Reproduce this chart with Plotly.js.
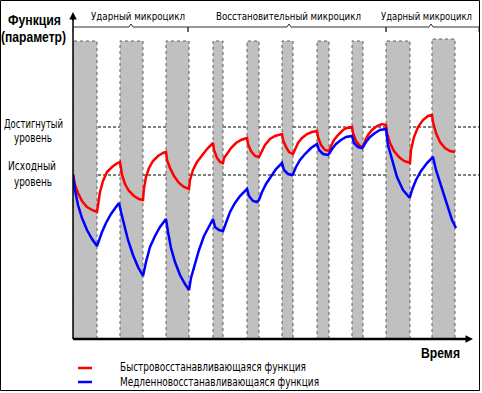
<!DOCTYPE html>
<html><head><meta charset="utf-8">
<script src="https://cdn.plot.ly/plotly-3.0.1.min.js"></script>
<style>html,body{margin:0;padding:0;background:#fff}#c{width:482px;height:393px}</style>
</head><body><div id="c"></div>
<script>
// ---- data (time units, function level) ----
const redT = [0,2,5,9,14,19,24,25,27,30,34,39,43,47,49,52,56,61,66,70,71,73,76,80,85,90,93,94,97,101,106,111,116,117,120,124,129,134,140,141,144,147,150,151,154,158,163,168,174,175,178,182,186,188,192,197,202,209,210,213,216,220,222,225,229,234,239,244,245,248,252,256,258,261,265,270,274,279,280,283,287,290,292,295,299,304,309,313,314,317,321,326,331,337,338,341,345,350,355,359,360,363,367,372,377,382];
const redV = [165,154,146,138,132,129,127,134,147,158,167,172,175,177,164,155,148,143,140,139,151,162,171,178,183,186,187,179,171,163,156,152,150,159,169,177,184,190,196,189,181,177,176,181,185,191,196,199,201,195,188,183,182,186,194,200,203,205,199,192,187,185,190,196,201,205,207,208,202,194,189,188,193,199,204,209,211,212,206,198,193,192,198,204,209,213,215,214,206,196,188,182,178,176,189,202,212,219,223,224,217,206,197,191,188,187];
const blueT = [0,2,5,9,14,19,24,26,29,33,38,43,46,48,51,55,60,65,70,73,77,82,87,93,95,98,102,107,112,116,118,122,126,131,136,140,142,146,150,153,157,162,167,174,176,180,184,186,189,193,198,203,209,211,215,219,220,223,227,232,238,244,246,250,255,256,259,263,268,273,279,281,285,289,290,293,297,302,307,313,315,319,324,330,336,337,339,343,348,354,360,363,367,371,375,379,383];
const blueV = [164,149,134,121,109,100,93,99,107,116,125,132,136,127,114,99,84,72,63,77,92,103,112,120,107,91,77,64,55,49,61,76,89,103,113,120,112,109,108,117,127,136,143,150,143,138,137,139,147,155,163,170,176,169,165,164,165,172,179,185,191,195,189,185,184,185,190,195,199,202,203,196,192,191,192,197,202,206,209,210,194,179,162,149,142,142,149,159,168,176,182,169,156,143,131,119,111];
// load (work) periods
const loadStart = [0,47,93,140,174,209,244,279,313,359];
const loadEnd   = [24,70,116,150,186,220,256,290,337,382];
const loadTop   = [298,298,298,298,298,298,298,298,298,300];
const initialLevel = 164;
const reachedLevel = 212;
const cycleNames = ["Ударный микроцикл","Восстановительный микроцикл","Ударный микроцикл"];
const cycleFrom = [0,115,313];
const cycleTo   = [115,313,406];
const cycleMid  = [58,216,358];
const seriesNames = ["Быстровосстанавливающаяся функция","Медленновосстанавливающаяся функция"];

// ---- layout helpers (pixel -> paper) ----
const L=73, T=13, W=399, H=326;
const PX = x => (x - L) / W;
const PY = y => (T + H - y) / H;
const narrow = '"DejaVu Sans Condensed","Liberation Sans",sans-serif';
const bold = '"Liberation Sans",Arial,sans-serif';

const shapes = [];
for (let i=0;i<loadStart.length;i++){
  shapes.push({type:'rect',xref:'x',yref:'y',x0:loadStart[i],x1:loadEnd[i],y0:0,y1:loadTop[i],
    fillcolor:'#c0c0c0',line:{color:'#606060',width:1,dash:'dot'},layer:'below'});
}
[initialLevel,reachedLevel].forEach(v=>shapes.push({type:'line',xref:'paper',yref:'y',x0:0,x1:PX(480),y0:v,y1:v,
  line:{color:'#000',width:1,dash:'3px,2px'},layer:'below'}));
// axes
shapes.push({type:'line',xref:'paper',yref:'paper',x0:0,x1:0,y0:0,y1:PY(18),line:{color:'#000',width:1.5}});
shapes.push({type:'line',xref:'paper',yref:'paper',x0:0,x1:PX(466),y0:PY(339),y1:PY(339),line:{color:'#000',width:2.5}});
// braces
for (let i=0;i<cycleNames.length;i++){
  const a=PX(L+cycleFrom[i]), b=PX(L+cycleTo[i]), m=PX(L+cycleMid[i]), d=2/W;
  shapes.push({type:'path',xref:'paper',yref:'paper',
    path:`M${a},${PY(32)} L${a},${PY(27)} L${m-d},${PY(27)} L${m},${PY(24)} L${m+d},${PY(27)} L${b},${PY(27)} L${b},${PY(32)}`,
    line:{color:'#333',width:1}});
}
// legend marks
shapes.push({type:'line',xref:'paper',yref:'paper',x0:PX(78),x1:PX(92),y0:PY(368),y1:PY(368),line:{color:'#ff0000',width:2.5}});
shapes.push({type:'line',xref:'paper',yref:'paper',x0:PX(78),x1:PX(92),y0:PY(382),y1:PY(382),line:{color:'#0000ff',width:2.5}});
// outer frame
shapes.push({type:'rect',xref:'paper',yref:'paper',x0:PX(0.5),x1:PX(479.5),y0:PY(390.5),y1:PY(0.5),line:{color:'#000',width:1}});

const ann = [];
const fitWidth = [];   // target text widths, in annotation order
const txt = (t,x,y,w,opts={}) => { ann.push(Object.assign({text:t,xref:'paper',yref:'paper',x:PX(x),y:PY(y),width:w,
  showarrow:false,xanchor:'center',yanchor:'middle',borderpad:0,font:{family:narrow,size:12.5,color:'#000'}},opts)); fitWidth.push(w); };
const topFont = {family:narrow,size:10.5,color:'#000'};
txt(cycleNames[0],138,16,94,{font:topFont});
txt(cycleNames[1],288,16,145,{font:topFont});
txt(cycleNames[2],426,16,91,{font:topFont});
const bf = {family:bold,size:14,color:'#000',weight:'bold'};
txt('<b>Функция</b>',34,20,53,{font:bf});
txt('<b>(параметр)</b>',33,37,65,{font:bf});
txt('Достигнутый',33,123,59);
txt('уровень',33,137,38);
txt('Исходный',32,165,48);
txt('уровень',33,181,38);
txt('<b>Время</b>',440,353,39,{font:bf});
txt(seriesNames[0],213,366,186);
txt(seriesNames[1],219.5,381,199);
// axis arrowheads
ann.push({xref:'paper',yref:'paper',x:0,y:PY(12),ax:0,ay:10,text:'',showarrow:true,arrowhead:2,arrowsize:1,arrowwidth:1.5,arrowcolor:'#000'});
ann.push({xref:'paper',yref:'paper',x:PX(473),y:PY(339),ax:-10,ay:0,text:'',showarrow:true,arrowhead:2,arrowsize:1,arrowwidth:1.5,arrowcolor:'#000'});

const data = [
  {x:redT,y:redV,type:'scatter',mode:'lines',name:seriesNames[0],line:{color:'#ff0000',width:2.5},hoverinfo:'skip'},
  {x:blueT,y:blueV,type:'scatter',mode:'lines',name:seriesNames[1],line:{color:'#0000ff',width:2.5},hoverinfo:'skip'}
];
const layout = {
  width:482,height:393,margin:{l:L,r:482-L-W,t:T,b:393-T-H},
  paper_bgcolor:'#fff',plot_bgcolor:'#fff',showlegend:false,
  xaxis:{range:[0,W],visible:false,fixedrange:true},
  yaxis:{range:[0,H],visible:false,fixedrange:true},
  shapes:shapes,annotations:ann
};
Plotly.newPlot('c',data,layout,{staticPlot:true,displayModeBar:false}).then(gd=>{
  // condense texts to the narrow widths of the original drawing
  const els = gd.querySelectorAll('.annotation');
  els.forEach((g,i)=>{
    if (i>=fitWidth.length) return;
    const t = g.querySelector('text.annotation-text');
    if (t){ t.setAttribute('textLength', fitWidth[i]); t.setAttribute('lengthAdjust','spacingAndGlyphs'); }
  });
});
</script></body></html>
